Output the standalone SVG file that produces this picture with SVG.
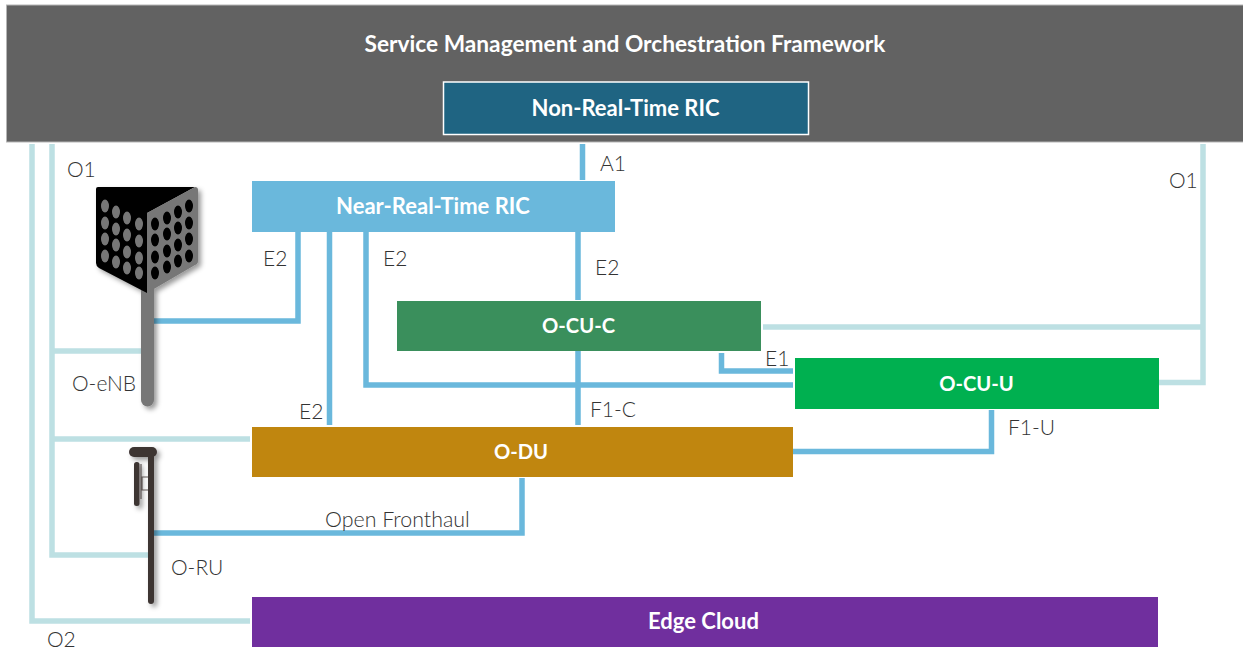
<svg xmlns="http://www.w3.org/2000/svg" width="1243" height="649" viewBox="0 0 1243 649">
<style>
.n{font-family:"Lato","Open Sans",sans-serif;font-weight:700;fill:#fff;text-anchor:middle;font-size:22px}
.s{font-size:20.200px}
.l{font-family:"Lato","Open Sans",sans-serif;font-weight:300;fill:#333;font-size:21px}
.o{fill:none;stroke:#bde0e3;stroke-width:5.500}
.e{fill:none;stroke:#6ab8dc;stroke-width:5.500}
</style>
<defs>
<filter id="s" x="-30%" y="-10%" width="170%" height="125%"><feDropShadow dx="3" dy="3" stdDeviation="2.500" flood-color="#000" flood-opacity=".4"/></filter>
</defs>
<rect width="1243" height="649" fill="#fff"/>
<g id="smo"><rect x="6.500" y="5" width="1237" height="137" fill="#626262" stroke="#b5b5b5"/><text class="n" x="625" y="52" style="font-size:22.700px">Service Management and Orchestration Framework</text></g>
<g id="non-rt-ric"><rect x="443.500" y="82" width="365" height="52.500" fill="#1f6482" stroke="#fff" stroke-width="1.500"/><text class="n" x="625.500" y="116">Non-Real-Time RIC</text></g>
<g id="connectors">
<path class="o" d="M32 144V621H250M52 144V555H148M52 351H141M52 439H250M1203 144V382.500H1158M763 327H1203"/>
<path class="e" d="M582.500 144V180M298 232V321H154M329.500 232V425M366 232V385H793M578 232V300M578 351V425M721.500 353V371H793M522 478V533H154M793 451.500H991.500V410"/>
</g>
<g id="near-rt-ric"><rect x="252" y="181" width="363" height="51" fill="#6ab8dc"/><text class="n" x="433" y="214">Near-Real-Time RIC</text></g>
<g id="o-cu-c"><rect x="397" y="301" width="364" height="50" fill="#3a8f5c"/><text class="n s" x="578.500" y="333">O-CU-C</text></g>
<g id="o-cu-u"><rect x="795" y="358" width="364" height="51" fill="#00b050"/><text class="n s" x="976.500" y="391">O-CU-U</text></g>
<g id="o-du"><rect x="252" y="427" width="541" height="50" fill="#c0860f"/><text class="n s" x="521" y="459">O-DU</text></g>
<g id="edge-cloud"><rect x="252" y="597" width="906" height="50" fill="#702f9e"/><text class="n" x="703.500" y="629">Edge Cloud</text></g>
<g id="o-enb">
<g filter="url(#s)">
<path d="M141 285H154V400a6.500 6.500 0 0 1-13 0Z" fill="#777"/>
<path d="M98 187H195L147 213V293L99 268Q96 266 96 263V189Q96 187 98 187Z" fill="#000"/>
<path d="M147 213L195 187Q198 187 198 190V261Q198 264 195 265L147 293Z" fill="#777"/>
</g>
<g fill="#777">
<ellipse cx="105" cy="206" rx="4" ry="6.500"/><ellipse cx="116" cy="212" rx="4" ry="6.500"/><ellipse cx="127" cy="218" rx="4" ry="6.500"/><ellipse cx="139" cy="224" rx="4" ry="6.500"/>
<ellipse cx="105" cy="223" rx="4" ry="6.500"/><ellipse cx="116" cy="229" rx="4" ry="6.500"/><ellipse cx="127" cy="235" rx="4" ry="6.500"/><ellipse cx="139" cy="241" rx="4" ry="6.500"/>
<ellipse cx="105" cy="239" rx="4" ry="6.500"/><ellipse cx="116" cy="245" rx="4" ry="6.500"/><ellipse cx="127" cy="252" rx="4" ry="6.500"/><ellipse cx="139" cy="258" rx="4" ry="6.500"/>
<ellipse cx="105" cy="256" rx="4" ry="6.500"/><ellipse cx="116" cy="262" rx="4" ry="6.500"/><ellipse cx="127" cy="268" rx="4" ry="6.500"/><ellipse cx="139" cy="273" rx="4" ry="6.500"/>
</g>
<g fill="#000">
<ellipse cx="155" cy="224" rx="4" ry="6.500"/><ellipse cx="167" cy="218" rx="4" ry="6.500"/><ellipse cx="178" cy="212" rx="4" ry="6.500"/><ellipse cx="189" cy="206" rx="4" ry="6.500"/>
<ellipse cx="155" cy="240" rx="4" ry="6.500"/><ellipse cx="167" cy="234" rx="4" ry="6.500"/><ellipse cx="178" cy="228" rx="4" ry="6.500"/><ellipse cx="189" cy="223" rx="4" ry="6.500"/>
<ellipse cx="155" cy="257" rx="4" ry="6.500"/><ellipse cx="167" cy="251" rx="4" ry="6.500"/><ellipse cx="178" cy="245" rx="4" ry="6.500"/><ellipse cx="189" cy="239" rx="4" ry="6.500"/>
<ellipse cx="155" cy="273" rx="4" ry="6.500"/><ellipse cx="167" cy="267" rx="4" ry="6.500"/><ellipse cx="178" cy="261" rx="4" ry="6.500"/><ellipse cx="189" cy="256" rx="4" ry="6.500"/>
</g>
</g>
<g id="o-ru">
<g filter="url(#s)" fill="#3d3533">
<rect x="129" y="447" width="28" height="10" rx="5"/>
<path d="M148 452H154V601a3 3 0 0 1-6 0Z"/>
<rect x="134" y="462" width="5.500" height="44" rx="2.500"/>
</g>
<path d="M141 464V499M148 477H142V490H148" fill="none" stroke="#5f5755" stroke-width="1.200"/>
</g>
<g id="labels">
<text class="l" x="67" y="177">O1</text>
<text class="l" x="1169" y="188">O1</text>
<text class="l" x="600" y="171">A1</text>
<text class="l" x="263" y="266">E2</text>
<text class="l" x="383" y="266">E2</text>
<text class="l" x="595" y="275">E2</text>
<text class="l" x="299" y="419">E2</text>
<text class="l" x="765" y="366">E1</text>
<text class="l" x="590" y="417">F1-C</text>
<text class="l" x="1008" y="435">F1-U</text>
<text class="l" x="72" y="391">O-eNB</text>
<text class="l" x="325" y="527" style="font-size:21.400px">Open Fronthaul</text>
<text class="l" x="171" y="575">O-RU</text>
<text class="l" x="47" y="647">O2</text>
</g>
</svg>
